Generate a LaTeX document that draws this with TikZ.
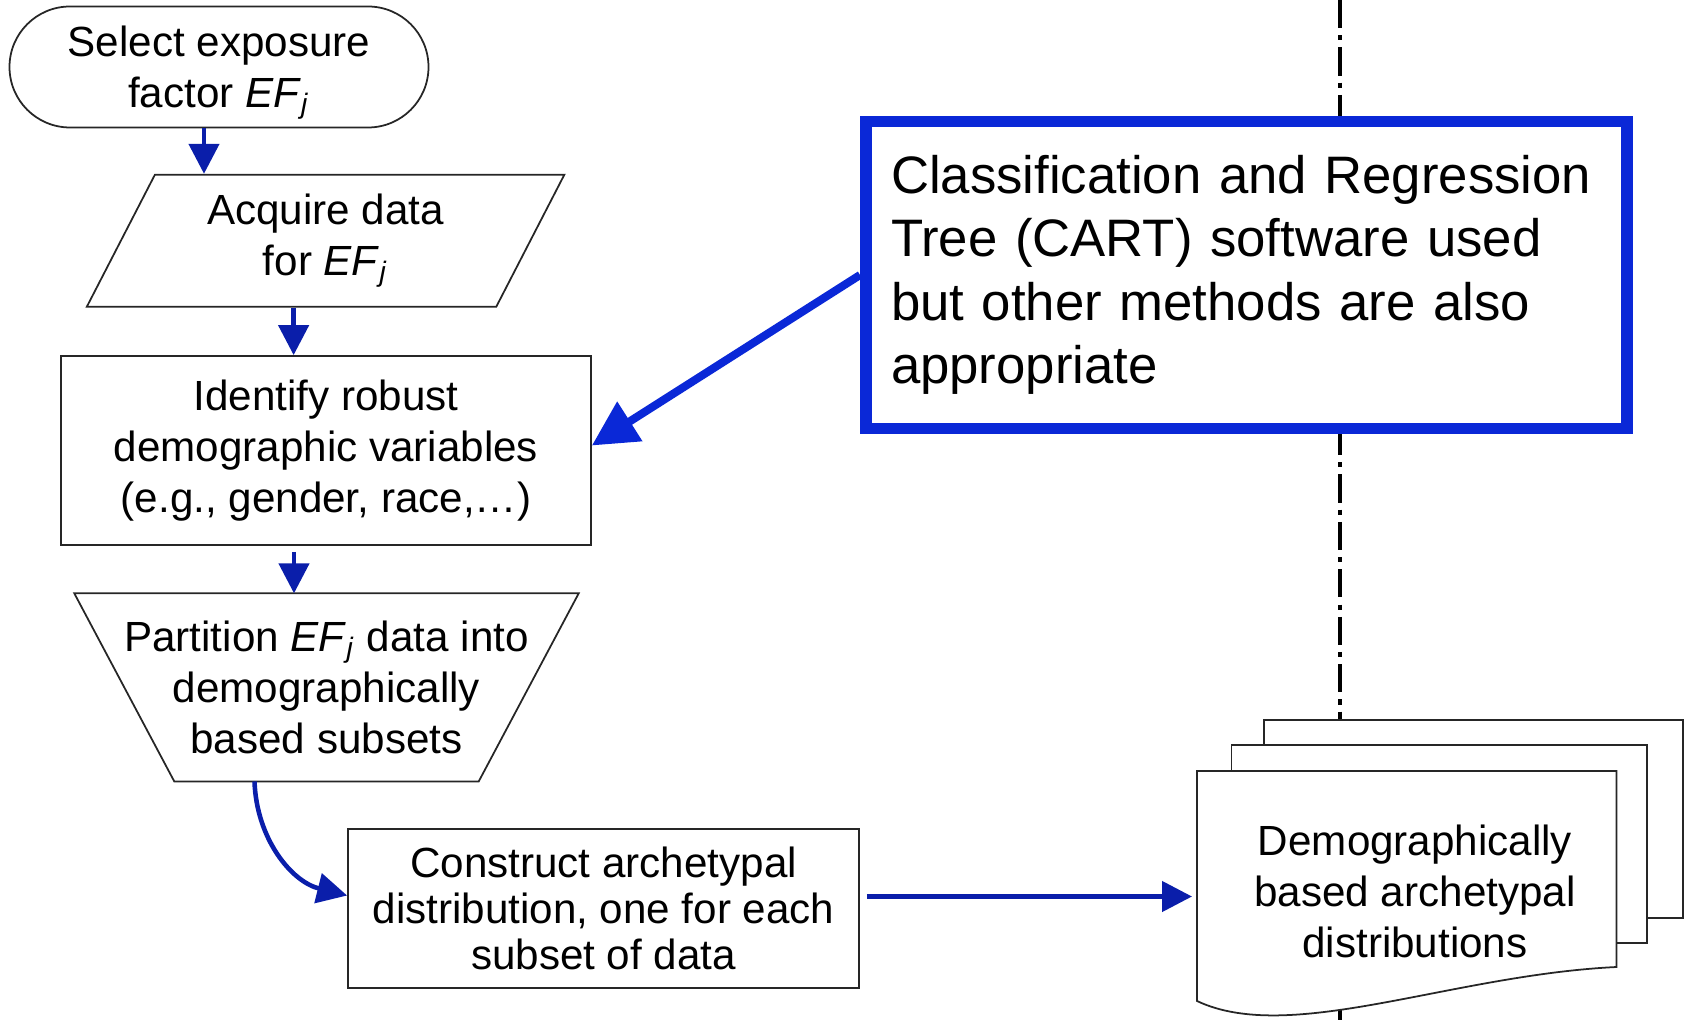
\documentclass[tikz,border=0pt]{standalone}
\usepackage{fontspec}
\setmainfont{Liberation Sans}
\usetikzlibrary{shapes.geometric,shapes.misc,arrows.meta}
\definecolor{flowblue}{RGB}{10,30,170}
\definecolor{cartblue}{RGB}{10,40,215}
\newcommand{\EFj}{\textit{EF}\textsubscript{\textit{j}}}
\tikzset{
  box/.style={draw=black!85, line width=0.5pt, fill=white, align=center, inner sep=0pt,
    font=\fontsize{12}{14.5}\selectfont},
  plain/.style={align=center, inner sep=0pt, font=\fontsize{12}{14.5}\selectfont},
  outline/.style={draw=black!85, line width=0.5pt, fill=white},
  flow/.style={draw=flowblue, line width=1.3pt, -{Triangle[length=3mm,width=3mm]}},
  cartbox/.style={draw=cartblue, line width=3.4pt, fill=white, align=left, inner sep=0pt,
    text width=7.11cm, font=\fontsize{15}{18}\selectfont},
  cartarrow/.style={draw=cartblue, line width=2.3pt, -{Triangle[length=4.5mm,width=4.5mm]}},
}
\begin{document}
\begin{tikzpicture}
\useasboundingbox (0,0) rectangle (16.84,-10.20);
\draw[line width=1pt, dash pattern=on 8pt off 2pt on 1.5pt off 2pt] (13.40,0) -- (13.40,-10.20);

\node[box, rounded rectangle, minimum width=4.19cm, minimum height=1.21cm] (select) at (2.19,-0.67)
  {Select exposure\\factor \smash{\EFj}};
\node[box, trapezium, trapezium left angle=54, trapezium right angle=126, trapezium stretches body,
  minimum width=4.775cm, minimum height=1.32cm] (acquire) at (3.256,-2.407) {Acquire data\\for {\EFj}};
\node[box, minimum width=5.30cm, minimum height=1.89cm] (identify) at (3.26,-4.505)
  {Identify robust\\demographic variables\\(e.g., gender, race,\dots)};
\node[plain, minimum width=5.03cm, minimum height=1.867cm] (partition) at (3.265,-6.874)
  {Partition {\EFj} data into\\demographically\\based subsets};
\draw[outline, fill=none] (partition.north west) -- (partition.north east)
  -- ([xshift=-1.0cm]partition.south east) -- ([xshift=1.0cm]partition.south west) -- cycle;
\node[box, minimum width=5.11cm, minimum height=1.59cm, font=\fontsize{12}{13.2}\selectfont] (construct) at (6.035,-9.085)
  {Construct archetypal\\distribution, one for each\\subset of data};

\node[cartbox, minimum width=7.61cm, minimum height=3.07cm] (cart) at (12.465,-2.75)
  {Classification and Regression\\Tree (CART) software used\\but other methods are also\\appropriate};

% stack of pages
\draw[outline] (12.64,-7.20) rectangle (16.83,-9.18);
\draw[outline] (12.315,-7.45) rectangle (16.47,-9.43);
\draw[outline] (11.97,-7.71) -- (16.165,-7.71) -- (16.165,-9.67)
  .. controls (14.5,-9.75) and (12.9,-10.45) .. (11.97,-10.01) -- cycle;
\coordinate (pageedge) at (11.92,-8.965);
\node[plain] (docs) at (14.15,-8.915) {Demographically\\based archetypal\\distributions};

\draw[flow] ([xshift=-1.5mm]select.south) -- ([xshift=-1.5mm]select.south |- acquire.north);
\draw[flow] ([xshift=-3.2mm]acquire.south) -- ([xshift=-3.2mm]acquire.south |- identify.north);
\draw[flow] ([xshift=-3.2mm,yshift=-0.6mm]identify.south) -- ([xshift=-3.2mm]identify.south |- partition.north);
\draw[flow] ([xshift=-7.2mm]partition.south) to[out=-88,in=166] ([yshift=1.3mm]construct.west);
\draw[flow] ([xshift=0.7mm]construct.east |- pageedge) -- (pageedge);
\draw[cartarrow] (cart.west) -- ([yshift=0.5mm]identify.east);
\end{tikzpicture}
\end{document}
